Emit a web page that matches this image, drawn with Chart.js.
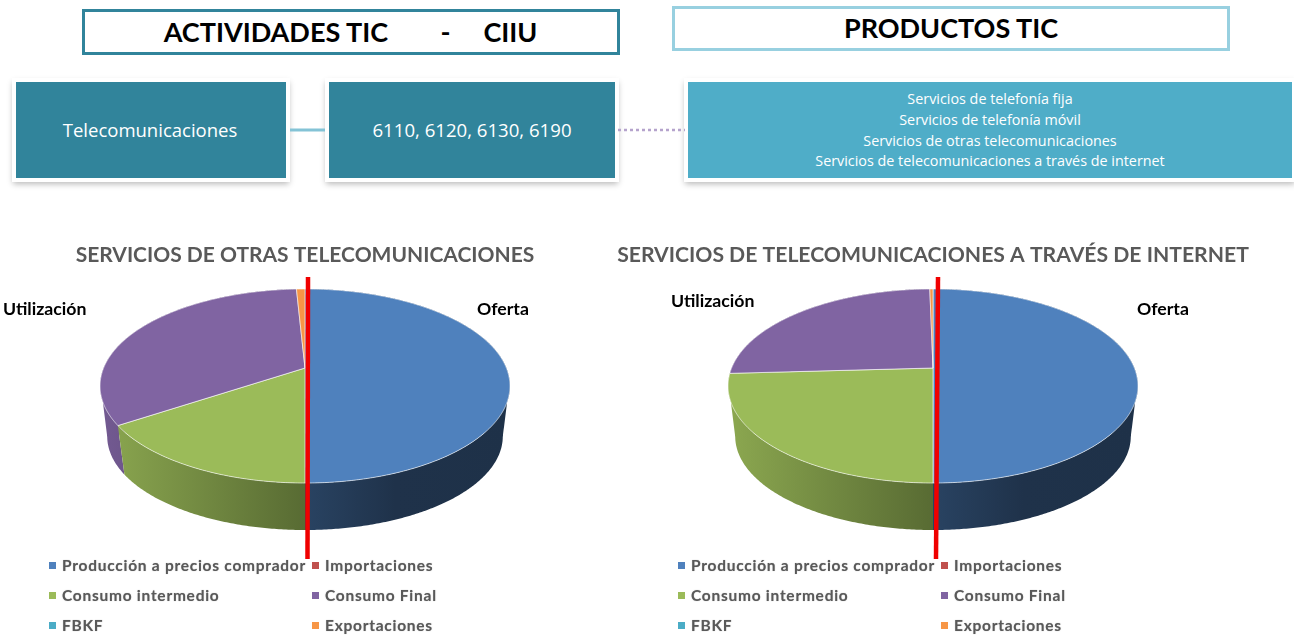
<!DOCTYPE html>
<html lang="es"><head><meta charset="utf-8">
<script src="https://cdn.jsdelivr.net/npm/chart.js@4/dist/chart.umd.js"></script>
<style>
html,body{margin:0;padding:0;background:#fff;overflow:hidden}
#page{position:absolute;left:0;top:0;width:1294px;height:637px;background:#fff;filter:blur(.45px);overflow:hidden}
.abs{position:absolute;box-sizing:border-box}
.head{font:700 27px Lato,sans-serif;color:#000;display:flex;align-items:center;justify-content:center;white-space:pre;background:#fff}
.box{color:#fff;font-family:"Open Sans",sans-serif;display:flex;align-items:center;justify-content:center;text-align:center;outline:4px solid #fff;box-shadow:0 3px 6px 3px rgba(0,0,0,.28)}
.tag{font:700 17.7px Lato,sans-serif;color:#000;white-space:nowrap;line-height:20px}
.leg{font:700 15.5px Lato,sans-serif;color:#595959;white-space:nowrap;line-height:18px;letter-spacing:.74px;text-shadow:0 0 1px rgba(89,89,89,.5)}
.sw{width:7px;height:7px}
canvas{position:absolute}
</style></head><body>
<div id="page">
  <div class="abs head" style="left:82px;top:9px;width:538px;height:46px;border:3px solid #31849b;padding-bottom:1px;padding-right:1px" id="h1"></div>
  <div class="abs head" style="left:672px;top:6px;width:558px;height:45px;border:3px solid #98d0e0;padding-bottom:2px" id="h2"></div>
  <div class="abs box" style="left:16px;top:82px;width:270px;height:96px;background:#31849b;font-size:18.5px;padding:0 2px 2px 0" id="b1"></div>
  <div class="abs box" style="left:329px;top:82px;width:286px;height:96px;background:#31849b;font-size:18.6px;padding-bottom:2px" id="b2"></div>
  <div class="abs box" style="left:688px;top:82px;width:604px;height:96px;background:#4fadc8;font-size:14.35px;line-height:20.7px;padding-top:1px" id="b3"></div>
  <svg class="abs" style="left:0;top:0;z-index:1" width="1294" height="637">
    <line x1="290" y1="130" x2="325" y2="130" stroke="#84c3d6" stroke-width="3"/>
    <line x1="618" y1="130" x2="685" y2="130" stroke="#b5a3cc" stroke-width="2.5" stroke-dasharray="3 3"/>
  </svg>
  <canvas id="c1" style="left:0;top:240px" width="610" height="397"></canvas>
  <canvas id="c2" style="left:603px;top:240px" width="660" height="397"></canvas>
  <svg class="abs" style="left:0;top:0;z-index:3" width="1294" height="637">
    <line x1="308" y1="277" x2="307.5" y2="559" stroke="#f00000" stroke-width="4.5"/>
    <line x1="938" y1="277" x2="936" y2="559" stroke="#f00000" stroke-width="4.5"/>
  </svg>
  <div id="overlay"></div>
</div>
<script>
const categories = ["Producción a precios comprador","Importaciones","Consumo intermedio","Consumo Final","FBKF","Exportaciones"];
const valuesOtras = [50,0,15.7,33.5,0,0.8];
const valuesInternet = [50,0,24.1,25.6,0,0.3];
const sliceColors = ["#4f81bd","#c0504d","#9bbb59","#8064a2","#4bacc6","#f79646"];
const titleOtras = "SERVICIOS DE OTRAS TELECOMUNICACIONES";
const titleInternet = "SERVICIOS DE TELECOMUNICACIONES A TRAVÉS DE INTERNET";
const headActividades = "ACTIVIDADES TIC        -     CIIU";
const headProductos = "PRODUCTOS TIC";
const actividad = "Telecomunicaciones";
const codigos = "6110, 6120, 6130, 6190";
const productos = ["Servicios de telefonía fija","Servicios de telefonía móvil","Servicios de otras telecomunicaciones","Servicios de telecomunicaciones a través de internet"];
const labelOferta = "Oferta", labelUtilizacion = "Utilización";

document.getElementById('h1').textContent = headActividades;
document.getElementById('h2').textContent = headProductos;
document.getElementById('b1').textContent = actividad;
document.getElementById('b2').textContent = codigos;
document.getElementById('b3').innerHTML = productos.join('<br>');

const overlay = document.getElementById('overlay');
function put(cls, x, y, text, color){
  const d = document.createElement('div');
  d.className = 'abs ' + cls;
  d.style.left = x + 'px'; d.style.top = y + 'px'; d.style.zIndex = 2;
  if (text) d.textContent = text;
  if (color) d.style.background = color;
  overlay.appendChild(d);
}
put('tag', 3, 299, labelUtilizacion);
put('tag', 477, 299, labelOferta);
put('tag', 671, 291, labelUtilizacion);
put('tag', 1137, 299, labelOferta);
[[49,312],[678,941]].forEach(cols => {
  categories.forEach((c, i) => {
    const x = cols[i % 2], y = 565 + 30 * Math.floor(i / 2);
    put('sw', x, y - 3.5, '', sliceColors[i]);
    put('leg', x + 13, y - 9, c);
  });
});

function shade(hex, f){
  const n = parseInt(hex.slice(1), 16);
  return `rgb(${Math.round((n>>16&255)*f)},${Math.round((n>>8&255)*f)},${Math.round((n&255)*f)})`;
}
const TILT = 0.4652, PERSP = 0.1855, DEPTH = 51, SHRINK = 0.965;
const DEG = Math.PI / 180;
const pie3d = {
  id: 'pie3d',
  beforeDatasetDraw(chart, args){
    const ctx = chart.ctx, arcs = args.meta.data;
    const proj = (e, th, s, dy) => {
      const u = Math.sin(th), v = Math.cos(th), w = 1 + PERSP * v;
      return [e.x + s * e.outerRadius * u / w, e.y + dy - s * e.outerRadius * TILT * v / w];
    };
    const walk = (e, from, to, s, dy) => {
      const n = Math.max(2, Math.ceil(Math.abs(to - from) / 0.01));
      for (let i = 0; i <= n; i++){
        const p = proj(e, from + (to - from) * i / n, s, dy);
        ctx.lineTo(p[0], p[1]);
      }
    };
    const range = e => [e.startAngle + Math.PI / 2, e.endAngle + Math.PI / 2];
    // silhouette: [angle on the top rim, angle on the lower rim, inner angle on the top rim]
    const tangents = [[110 * DEG, 100.7 * DEG, 128 * DEG], [250 * DEG, 259.3 * DEG, 232 * DEG]];
    // back walls first so the front walls cover them
    const order = arcs.map((e, i) => i).sort((p, q) => {
      const m = e => Math.cos((e.startAngle + e.endAngle) / 2 + Math.PI / 2);
      return m(arcs[q]) - m(arcs[p]);
    });
    order.forEach(i => {
      const e = arcs[i];
      const [a, b] = range(e);
      if (b - a < 1e-4) return;
      const R = e.outerRadius * 1.02;
      const g = ctx.createLinearGradient(e.x - R, 0, e.x + R, 0);
      const col = sliceColors[i];
      g.addColorStop(0, shade(col, .9));
      g.addColorStop(.5, shade(col, .57));
      g.addColorStop(.5, shade(col, .52));
      g.addColorStop(.72, shade(col, .39));
      g.addColorStop(1, shade(col, .38));
      ctx.fillStyle = g;
      ctx.beginPath();
      walk(e, a, b, 1, 0);
      walk(e, b, a, SHRINK, DEPTH);
      ctx.closePath();
      ctx.fill();
      tangents.forEach(([t, l, n]) => {
        if (t < a || t > b) return;
        const p = proj(e, t, 1, 0), q = proj(e, l, SHRINK, DEPTH), r = proj(e, n, 1, 0);
        ctx.beginPath();
        ctx.moveTo(p[0], p[1]); ctx.lineTo(q[0], q[1]); ctx.lineTo(r[0], r[1]);
        ctx.closePath();
        ctx.fill();
      });
    });
    arcs.forEach((e, i) => {
      const [a, b] = range(e);
      if (b - a < 1e-4) return;
      ctx.beginPath();
      ctx.moveTo(e.x, e.y);
      walk(e, a, b, 1, 0);
      ctx.closePath();
      ctx.fillStyle = sliceColors[i];
      ctx.fill();
      ctx.strokeStyle = 'rgba(255,255,255,.6)';
      ctx.lineWidth = 1;
      ctx.stroke();
    });
    return false;
  }
};
function build(id, values, title, titleSize){
  return new Chart(document.getElementById(id), {
    type: 'pie',
    data: { labels: categories, datasets: [{ data: values, backgroundColor: sliceColors, radius: 201.4, borderWidth: 0 }] },
    plugins: [pie3d],
    options: {
      responsive: false, animation: false, events: [],
      layout: { padding: { left: 0, right: 0, top: 0, bottom: 171.4 } },
      plugins: {
        legend: { display: false }, tooltip: { enabled: false },
        title: { display: true, text: title, color: '#595959', padding: { top: 2, bottom: 2 },
          font: { family: 'Lato, sans-serif', size: titleSize, weight: 'bold', lineHeight: 26.4 / titleSize } }
      }
    }
  });
}
build('c1', valuesOtras, titleOtras, 21);
build('c2', valuesInternet, titleInternet, 21.17);
</script>
</body></html>
